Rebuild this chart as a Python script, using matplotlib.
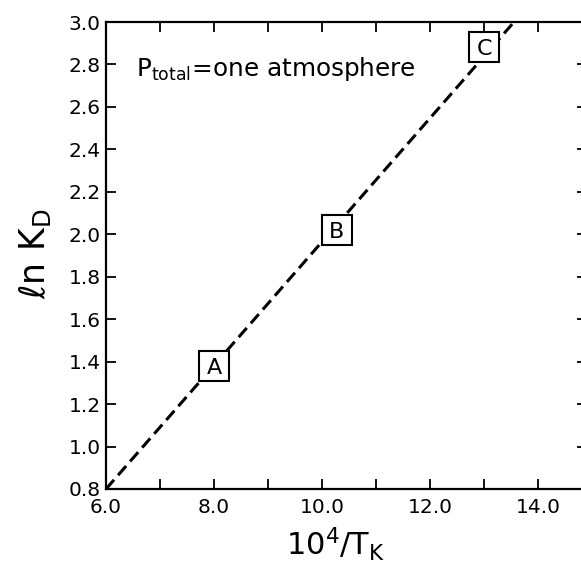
import matplotlib
matplotlib.use("Agg")
import matplotlib.pyplot as plt

# Fitted line of ln K_D against 10^4/T
line_x = [6.0, 13.55]
line_y = [0.8, 3.0]

# Labelled experimental points
point_labels = ["A", "B", "C"]
point_x = [8.0, 10.27, 13.0]
point_y = [1.38, 2.02, 2.88]

x_ticks = [6.0, 7.0, 8.0, 9.0, 10.0, 11.0, 12.0, 13.0, 14.0]
x_ticklabels = ["6.0", "", "8.0", "", "10.0", "", "12.0", "", "14.0"]
y_ticks = [0.8, 1.0, 1.2, 1.4, 1.6, 1.8, 2.0, 2.2, 2.4, 2.6, 2.8, 3.0]
y_ticklabels = ["0.8", "1.0", "1.2", "1.4", "1.6", "1.8", "2.0", "2.2",
                "2.4", "2.6", "2.8", "3.0"]

plt.rcParams["font.family"] = ["DejaVu Sans"]
plt.rcParams["mathtext.fontset"] = "dejavusans"

fig = plt.figure(figsize=(5.81, 5.61), dpi=100)
ax = fig.add_axes([106 / 581, (561 - 489) / 561, (587 - 106) / 581, (489 - 22) / 561])

ax.plot(line_x, line_y, color="black", lw=2.2, dashes=(4, 2), zorder=2,
        dash_capstyle="butt", solid_capstyle="butt")

# square markers with the point letters on top
ax.plot(point_x, point_y, ls="none", marker="s", ms=21, mfc="white",
        mec="black", mew=1.5, zorder=3)
for lab, px, py in zip(point_labels, point_x, point_y):
    ax.text(px, py, lab, ha="center", va="center_baseline", fontsize=16, zorder=4)

ax.text(6.55, 2.78, r"P$_\mathrm{total}$=one atmosphere", fontsize=17.8,
        ha="left", va="center")

ax.set_xlim(6.0, 14.9)
ax.set_ylim(0.8, 3.0)
ax.set_xticks(x_ticks)
ax.set_xticklabels(x_ticklabels)
ax.set_yticks(y_ticks)
ax.set_yticklabels(y_ticklabels)
ax.tick_params(direction="in", length=7, width=1.3, labelsize=14.5,
               top=True, right=True)
ax.tick_params(axis="x", pad=6.5)
ax.tick_params(axis="y", pad=4)
for s in ax.spines.values():
    s.set_linewidth(1.6)

ax.set_ylabel(r"$\ell\mathrm{n}\ \mathrm{K}_\mathrm{D}$", fontsize=25)
ax.yaxis.label.set_va("center")
ax.yaxis.set_label_coords(-0.148, 0.503)

ax.set_xlabel(r"$10^4/\mathrm{T}_\mathrm{K}$", fontsize=22)
ax.xaxis.label.set_va("baseline")
ax.xaxis.set_label_coords(0.478, -0.141)

fig.savefig("out.png", dpi=100)
